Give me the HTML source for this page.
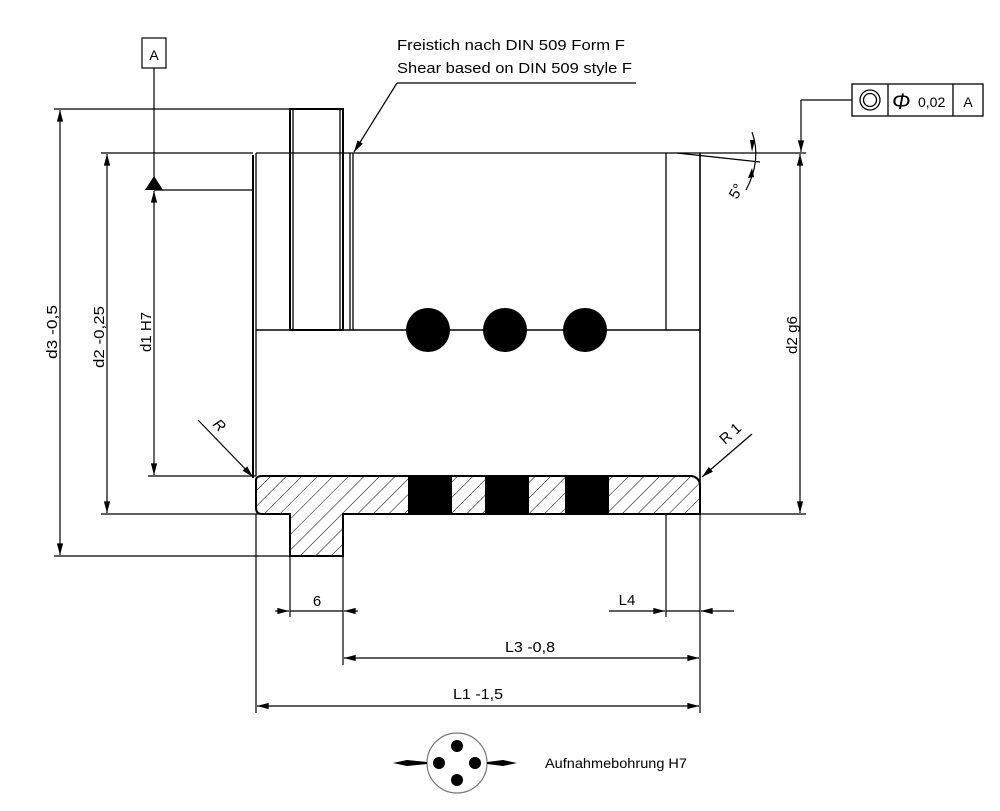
<!DOCTYPE html>
<html><head><meta charset="utf-8"><style>
html,body{margin:0;padding:0;background:#fff;}
svg{display:block;}
text{font-family:"Liberation Sans",sans-serif;fill:#000;}
</style></head><body>
<svg width="1000" height="811" viewBox="0 0 1000 811" xmlns="http://www.w3.org/2000/svg">
<defs>
<pattern id="h" patternUnits="userSpaceOnUse" width="11" height="11" patternTransform="rotate(45)">
<line x1="0" y1="0" x2="0" y2="11" stroke="#000" stroke-width="1"/>
</pattern>
<marker id="a" viewBox="0 0 10 6" refX="10" refY="3" markerWidth="14" markerHeight="7" markerUnits="userSpaceOnUse" orient="auto-start-reverse">
<path d="M0,0.3 L10,3 L0,5.7 z" fill="#000"/>
</marker>
</defs>

<g stroke="#000" fill="none" stroke-width="1.3">
<line x1="54" y1="109" x2="290" y2="109"/>
<line x1="101" y1="153" x2="253" y2="153"/>
<line x1="54" y1="556" x2="290" y2="556"/>
<line x1="101" y1="514" x2="290" y2="514"/>
<line x1="148" y1="476" x2="256" y2="476"/>
<line x1="154" y1="190" x2="252" y2="190"/>
<line x1="343" y1="514" x2="806" y2="514"/>
<line x1="666" y1="153" x2="806" y2="153"/>

<line x1="256" y1="153" x2="666" y2="153"/>
<line x1="253" y1="155" x2="253" y2="478" stroke-width="2"/>
<line x1="256" y1="153" x2="256" y2="476"/>
<rect x="290" y="109" width="53" height="221" stroke-width="2"/>
<line x1="293" y1="110" x2="293" y2="330"/>
<line x1="340" y1="110" x2="340" y2="330"/>
<line x1="350" y1="153" x2="350" y2="330"/>
<line x1="353" y1="153" x2="353" y2="330"/>
<line x1="666" y1="153" x2="666" y2="330"/>
<line x1="700" y1="153" x2="700" y2="514" stroke-width="1.6"/>
<line x1="256" y1="330" x2="700" y2="330" stroke-width="1.6"/>
<line x1="677" y1="153" x2="760" y2="162"/>
</g>

<path d="M256,480 Q256,476 262,476 L692,476 Q700,478 700,486 L700,514 L343,514 L343,556 L290,556 L290,514 L262,514 Q256,514 256,508 Z" fill="url(#h)" stroke="#000" stroke-width="2"/>
<g fill="#000">
<rect x="408" y="476" width="44" height="38"/>
<rect x="485" y="476" width="44" height="38"/>
<rect x="565" y="476" width="44" height="38"/>
<circle cx="428" cy="330" r="22"/>
<circle cx="505" cy="330" r="22"/>
<circle cx="585" cy="330" r="22"/>
</g>

<g stroke="#000" stroke-width="1.2" fill="none">
<line x1="60" y1="110" x2="60" y2="555" marker-start="url(#a)" marker-end="url(#a)"/>
<line x1="107" y1="154" x2="107" y2="513" marker-start="url(#a)" marker-end="url(#a)"/>
<line x1="154" y1="191" x2="154" y2="475" marker-start="url(#a)" marker-end="url(#a)"/>
<line x1="154" y1="68" x2="154" y2="178"/>
<line x1="800" y1="154" x2="800" y2="513" marker-start="url(#a)" marker-end="url(#a)"/>
<line x1="801" y1="100" x2="852" y2="100"/>
<line x1="801" y1="100" x2="801" y2="152" marker-end="url(#a)"/>
<line x1="256" y1="514" x2="256" y2="713"/>
<line x1="700" y1="514" x2="700" y2="713"/>
<line x1="290" y1="556" x2="290" y2="617"/>
<line x1="343" y1="556" x2="343" y2="665"/>
<line x1="666" y1="514" x2="666" y2="617"/>
<line x1="275" y1="611" x2="289" y2="611" marker-end="url(#a)"/>
<line x1="358" y1="611" x2="344" y2="611" marker-end="url(#a)"/>
<line x1="290" y1="611" x2="343" y2="611"/>
<line x1="609" y1="611" x2="665" y2="611" marker-end="url(#a)"/>
<line x1="734" y1="611" x2="701" y2="611" marker-end="url(#a)"/>
<line x1="666" y1="611" x2="700" y2="611"/>
<line x1="344" y1="658" x2="699" y2="658" marker-start="url(#a)" marker-end="url(#a)"/>
<line x1="257" y1="706" x2="699" y2="706" marker-start="url(#a)" marker-end="url(#a)"/>
<line x1="397" y1="83" x2="636" y2="83"/>
<line x1="397" y1="83" x2="354" y2="152" marker-end="url(#a)"/>
<line x1="198" y1="420" x2="253" y2="477" marker-end="url(#a)"/>
<line x1="752" y1="434" x2="702" y2="477" marker-end="url(#a)"/>
<path d="M752,132 Q762,160 746,190" />
</g>
<path d="M750,140 l2,12 l3,-12z M752,168 l-4,10 l6,-1z" fill="#000"/>
<path d="M145,190 L154,176 L163,190 Z" fill="#000"/>
<rect x="142" y="38" width="24" height="30" fill="#fff" stroke="#000" stroke-width="1.2"/>
<text x="154" y="60" font-size="14" text-anchor="middle">A</text>

<g stroke="#000" stroke-width="1.3" fill="none">
<rect x="852" y="84" width="131" height="32"/>
<line x1="888" y1="84" x2="888" y2="116"/>
<line x1="953" y1="84" x2="953" y2="116"/>
<circle cx="870" cy="100" r="10"/>
<circle cx="870" cy="100" r="6.5"/>
</g>
<text x="892" y="109" font-size="22" font-style="italic">Φ</text>
<text x="918" y="107" font-size="14">0,02</text>
<text x="968" y="107" font-size="14" text-anchor="middle">A</text>

<text x="397" y="50" font-size="15" textLength="228" lengthAdjust="spacingAndGlyphs">Freistich nach DIN 509 Form F</text>
<text x="397" y="73" font-size="15" textLength="235" lengthAdjust="spacingAndGlyphs">Shear based on DIN 509 style F</text>
<text transform="translate(57,332) rotate(-90)" font-size="15" text-anchor="middle" textLength="54" lengthAdjust="spacingAndGlyphs">d3 -0,5</text>
<text transform="translate(104,337) rotate(-90)" font-size="15" text-anchor="middle" textLength="62" lengthAdjust="spacingAndGlyphs">d2 -0,25</text>
<text transform="translate(151,332) rotate(-90)" font-size="15" text-anchor="middle" textLength="40" lengthAdjust="spacingAndGlyphs">d1 H7</text>
<text transform="translate(797,335) rotate(-90)" font-size="15" text-anchor="middle" textLength="38" lengthAdjust="spacingAndGlyphs">d2 g6</text>
<text x="317" y="606" font-size="15" text-anchor="middle">6</text>
<text x="627" y="605" font-size="15" text-anchor="middle">L4</text>
<text x="530" y="652" font-size="15" text-anchor="middle" textLength="50" lengthAdjust="spacingAndGlyphs">L3 -0,8</text>
<text x="478" y="699" font-size="15" text-anchor="middle" textLength="50" lengthAdjust="spacingAndGlyphs">L1 -1,5</text>
<text transform="translate(212,425) rotate(45)" font-size="15" font-style="italic">R</text>
<text transform="translate(725,445) rotate(-42)" font-size="15">R 1</text>
<text transform="translate(737,200) rotate(-60)" font-size="15">5°</text>

<circle cx="457" cy="763" r="30" fill="none" stroke="#777" stroke-width="1.2"/>
<g fill="#000">
<circle cx="457" cy="746" r="6"/>
<circle cx="457" cy="780" r="6"/>
<circle cx="439" cy="763" r="6"/>
<circle cx="475" cy="763" r="6"/>
<path d="M393,763 L407,760 L427,762 L427,764 L407,766 Z"/>
<path d="M517,763 L503,760 L487,762 L487,764 L503,766 Z"/>
</g>
<text x="545" y="768" font-size="14" textLength="142" lengthAdjust="spacingAndGlyphs">Aufnahmebohrung H7</text>
</svg>
</body></html>
